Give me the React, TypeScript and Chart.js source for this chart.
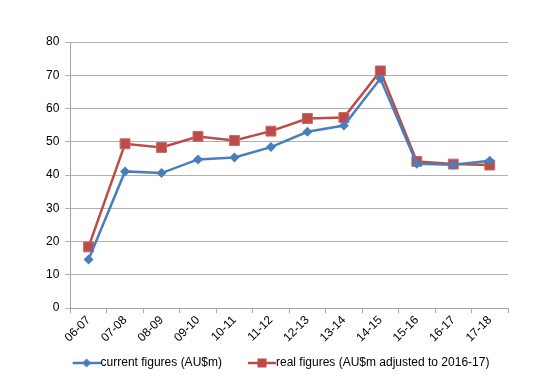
import React, { useEffect, useRef } from "react";
import { Chart, registerables } from "chart.js";

Chart.register(...registerables);

const categories = ["06-07", "07-08", "08-09", "09-10", "10-11", "11-12", "12-13", "13-14", "14-15", "15-16", "16-17", "17-18"];
const currentFigures = [14.6, 41.1, 40.6, 44.7, 45.3, 48.4, 53.0, 54.9, 69.0, 43.4, 43.1, 44.3];
const realFigures = [18.4, 49.4, 48.3, 51.6, 50.4, 53.2, 57.0, 57.3, 71.3, 44.1, 43.3, 43.0];
const seriesNames = ["current figures (AU$m)", "real figures (AU$m adjusted to 2016-17)"];

const BLUE = "#4A7EBB";
const RED = "#BE4B48";

// legend icon: line + marker, sized so the line ends where the label text begins
function legendIcon(color: string, shape: "diamond" | "square"): HTMLCanvasElement {
  const c = document.createElement("canvas");
  c.width = 48;
  c.height = 12;
  const ctx = c.getContext("2d")!;
  ctx.strokeStyle = color;
  ctx.lineWidth = 2.5;
  ctx.beginPath();
  ctx.moveTo(20, 6);
  ctx.lineTo(48, 6);
  ctx.stroke();
  ctx.fillStyle = color;
  ctx.beginPath();
  const cx = 34;
  if (shape === "diamond") {
    ctx.moveTo(cx, 1.5);
    ctx.lineTo(cx + 4.5, 6);
    ctx.lineTo(cx, 10.5);
    ctx.lineTo(cx - 4.5, 6);
    ctx.closePath();
  } else {
    ctx.rect(cx - 4.5, 1.5, 9, 9);
  }
  ctx.fill();
  return c;
}

export default function App() {
  const ref = useRef<HTMLCanvasElement>(null);
  useEffect(() => {
    document.body.style.margin = "0";
    const icons = [legendIcon(BLUE, "diamond"), legendIcon(RED, "square")];
    const chart = new Chart(ref.current!, {
      type: "line",
      data: {
        labels: categories,
        datasets: [
          {
            label: seriesNames[0],
            data: currentFigures,
            borderColor: BLUE,
            backgroundColor: BLUE,
            borderWidth: 2.5,
            pointStyle: "rectRot",
            pointRadius: 5,
            pointHoverRadius: 5,
            pointBorderWidth: 0,
            tension: 0,
          },
          {
            label: seriesNames[1],
            data: realFigures,
            borderColor: RED,
            backgroundColor: RED,
            borderWidth: 2.5,
            pointStyle: "rect",
            pointRadius: 7,
            pointHoverRadius: 7,
            pointBorderWidth: 1,
            pointBorderColor: "#C86A67",
            tension: 0,
          },
        ],
      },
      options: {
        animation: false,
        responsive: false,
        layout: { padding: { top: 42, right: 38, left: 40, bottom: 2 } },
        plugins: {
          tooltip: { enabled: false },
          legend: {
            position: "bottom",
            labels: {
              usePointStyle: true,
              pointStyleWidth: 36,
              padding: 12,
              color: "#000",
              font: { family: "Liberation Sans", size: 12 },
              generateLabels: (ch) =>
                ch.data.datasets.map((d, i) => ({
                  text: d.label as string,
                  pointStyle: icons[i],
                  fillStyle: "transparent",
                  strokeStyle: "transparent",
                  lineWidth: 0,
                  datasetIndex: i,
                  hidden: false,
                  fontColor: "#000",
                })),
            },
          },
        },
        scales: {
          x: {
            offset: true,
            grid: { offset: true, drawOnChartArea: false, drawTicks: true, tickLength: 5, color: "#A6A6A6" },
            border: { color: "#A6A6A6", width: 1 },
            ticks: {
              color: "#000",
              maxRotation: 45,
              minRotation: 45,
              autoSkip: false,
              font: { family: "Liberation Sans", size: 12 },
              padding: 0,
            },
          },
          y: {
            min: 0,
            max: 80,
            grid: { color: "#B0B0B0", tickLength: 5 },
            border: { color: "#A6A6A6", width: 1 },
            ticks: {
              stepSize: 10,
              color: "#000",
              font: { family: "Liberation Sans", size: 12 },
              padding: 6,
            },
          },
        },
      },
    });
    return () => chart.destroy();
  }, []);
  return (
    <div style={{ width: 546, height: 381, background: "#fff" }}>
      <canvas ref={ref} width={546} height={381} />
    </div>
  );
}
